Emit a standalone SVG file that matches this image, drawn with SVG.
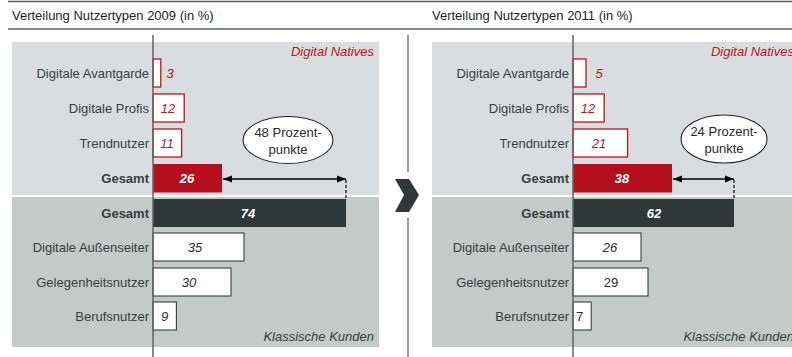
<svg xmlns="http://www.w3.org/2000/svg" width="792" height="357" viewBox="0 0 792 357">
  <defs>
    <marker id="ah" viewBox="0 0 10 10" refX="10" refY="5" markerWidth="9" markerHeight="9" markerUnits="userSpaceOnUse" orient="auto-start-reverse">
      <path d="M0,1 L10,5 L0,9 Z" fill="#000"/>
    </marker>
    <style>
      text { font-family: "Liberation Sans", Arial, sans-serif; font-size: 13px; fill: #3a3d3e; }
      .title { fill: #1e1e1e; }
      .lbl { text-anchor: end; }
      .bold { font-weight: bold; }
      .nat { fill: #c0121f; font-style: italic; text-anchor: middle; }
      .cls { font-style: italic; text-anchor: middle; fill: #2a2a2a; }
      .up { font-style: normal; }
      .wht { fill: #fff; font-weight: bold; font-style: italic; text-anchor: middle; }
      .tag-n { fill: #c0121f; font-style: italic; text-anchor: end; }
      .tag-k { fill: #3a3d3e; font-style: italic; text-anchor: end; }
      .bub { text-anchor: middle; fill: #2a2a2a; }
      .hdr { stroke: #5b5f60; stroke-width: 1.5; }
      .axis { stroke: #5f6465; stroke-width: 1.5; }
      .pTop { fill: #d9dddf; }
      .pBot { fill: #c3cac8; }
      .bN { fill: #fff; stroke: #c0121f; stroke-width: 1.3; }
      .bK { fill: #fff; stroke: #3a3d3e; stroke-width: 1.1; }
      .bR { fill: #b50f1e; }
      .bD { fill: #2e3839; }
      .ell { fill: #fff; stroke: #222; stroke-width: 1.1; }
      .arr { stroke: #000; stroke-width: 1.3; fill: none; }
      .dash { stroke: #000; stroke-width: 1.2; stroke-dasharray: 3 2; fill: none; }
    </style>
  </defs>

  <!-- header rules -->
  <line class="hdr" x1="8" y1="1.5" x2="792" y2="1.5"/>
  <line class="hdr" x1="8" y1="29" x2="792" y2="29"/>

  <!-- separator between the two years -->
  <g id="separator">
    <line x1="408" y1="35" x2="408" y2="172" stroke="#777b7c" stroke-width="1.5"/>
    <line x1="408" y1="218" x2="408" y2="357" stroke="#777b7c" stroke-width="1.5"/>
    <path d="M395,179 L409,179 L419,195 L409,212 L395,212 L404,195 Z" fill="#2e3839"/>
  </g>

  <!-- ===== 2009 ===== -->
  <g id="chart2009">
    <text class="title" x="12" y="20">Verteilung Nutzertypen 2009 (in %)</text>
    <rect class="pTop" x="12" y="42" width="367" height="153"/>
    <rect class="pBot" x="12" y="197" width="367" height="150"/>
    <text class="tag-n" x="374" y="56">Digital Natives</text>
    <text class="tag-k" x="374" y="341">Klassische Kunden</text>

    <g id="n09-avantgarde">
      <rect class="bN" x="153" y="59" width="7.8" height="28"/>
      <text class="lbl" x="149" y="78">Digitale Avantgarde</text>
      <text class="nat" x="170" y="78">3</text>
    </g>
    <g id="n09-profis">
      <rect class="bN" x="153" y="94" width="31.2" height="28"/>
      <text class="lbl" x="149" y="113">Digitale Profis</text>
      <text class="nat" x="168" y="113">12</text>
    </g>
    <g id="n09-trend">
      <rect class="bN" x="153" y="129" width="28.6" height="28"/>
      <text class="lbl" x="149" y="148">Trendnutzer</text>
      <text class="nat" x="167" y="148">11</text>
    </g>
    <g id="n09-gesamt">
      <rect class="bR" x="153" y="164" width="69" height="28.5"/>
      <text class="lbl bold" x="149" y="183">Gesamt</text>
      <text class="wht" x="187" y="183">26</text>
    </g>
    <g id="k09-gesamt">
      <rect class="bD" x="153" y="199" width="193" height="28"/>
      <text class="lbl bold" x="149" y="218">Gesamt</text>
      <text class="wht" x="248" y="218">74</text>
    </g>
    <g id="k09-aussen">
      <rect class="bK" x="153" y="233" width="91" height="28"/>
      <text class="lbl" x="149" y="252">Digitale Außenseiter</text>
      <text class="cls" x="195" y="252">35</text>
    </g>
    <g id="k09-gelegenheit">
      <rect class="bK" x="153" y="268" width="78" height="28"/>
      <text class="lbl" x="149" y="287">Gelegenheitsnutzer</text>
      <text class="cls" x="189" y="287">30</text>
    </g>
    <g id="k09-beruf">
      <rect class="bK" x="153" y="302" width="23.4" height="28"/>
      <text class="lbl" x="149" y="321">Berufsnutzer</text>
      <text class="cls" x="164.5" y="321">9</text>
    </g>

    <g id="diff09">
      <ellipse class="ell" cx="288" cy="140" rx="45" ry="23.5"/>
      <text class="bub" x="288" y="137">48 Prozent-</text>
      <text class="bub" x="288" y="154">punkte</text>
    </g>
    <line class="axis" x1="153" y1="35" x2="153" y2="357"/>
  </g>

  <!-- ===== 2011 ===== -->
  <g id="chart2011">
    <text class="title" x="432" y="20">Verteilung Nutzertypen 2011 (in %)</text>
    <rect class="pTop" x="432" y="42" width="367" height="153"/>
    <rect class="pBot" x="432" y="197" width="367" height="150"/>
    <text class="tag-n" x="794" y="56">Digital Natives</text>
    <text class="tag-k" x="794" y="341">Klassische Kunden</text>

    <g id="n11-avantgarde">
      <rect class="bN" x="573" y="59" width="13" height="28"/>
      <text class="lbl" x="569" y="78">Digitale Avantgarde</text>
      <text class="nat" x="599" y="78">5</text>
    </g>
    <g id="n11-profis">
      <rect class="bN" x="573" y="94" width="31.2" height="28"/>
      <text class="lbl" x="569" y="113">Digitale Profis</text>
      <text class="nat" x="588" y="113">12</text>
    </g>
    <g id="n11-trend">
      <rect class="bN" x="573" y="129" width="54.6" height="28"/>
      <text class="lbl" x="569" y="148">Trendnutzer</text>
      <text class="nat" x="599" y="148">21</text>
    </g>
    <g id="n11-gesamt">
      <rect class="bR" x="573" y="164" width="99" height="28.5"/>
      <text class="lbl bold" x="569" y="183">Gesamt</text>
      <text class="wht" x="622" y="183">38</text>
    </g>
    <g id="k11-gesamt">
      <rect class="bD" x="573" y="199" width="161" height="28"/>
      <text class="lbl bold" x="569" y="218">Gesamt</text>
      <text class="wht" x="654" y="218">62</text>
    </g>
    <g id="k11-aussen">
      <rect class="bK" x="573" y="233" width="68" height="28"/>
      <text class="lbl" x="569" y="252">Digitale Außenseiter</text>
      <text class="cls" x="610" y="252">26</text>
    </g>
    <g id="k11-gelegenheit">
      <rect class="bK" x="573" y="268" width="75" height="28"/>
      <text class="lbl" x="569" y="287">Gelegenheitsnutzer</text>
      <text class="cls up" x="611" y="287">29</text>
    </g>
    <g id="k11-beruf">
      <rect class="bK" x="573" y="302" width="18.2" height="28"/>
      <text class="lbl" x="569" y="321">Berufsnutzer</text>
      <text class="cls up" x="579.5" y="321">7</text>
    </g>

    <g id="diff11">
      <ellipse class="ell" cx="724" cy="139" rx="43" ry="24"/>
      <text class="bub" x="724" y="136">24 Prozent-</text>
      <text class="bub" x="724" y="153">punkte</text>
    </g>
    <line class="axis" x1="573" y1="35" x2="573" y2="357"/>
  </g>

  <!-- gap arrows between the two totals -->
  <g id="connectors">
    <line class="arr" x1="223" y1="179" x2="346" y2="179" marker-start="url(#ah)" marker-end="url(#ah)"/>
    <line class="dash" x1="346" y1="180" x2="346" y2="199"/>
    <line class="arr" x1="673" y1="179" x2="734" y2="179" marker-start="url(#ah)" marker-end="url(#ah)"/>
    <line class="dash" x1="734" y1="180" x2="734" y2="199"/>
  </g>
</svg>
